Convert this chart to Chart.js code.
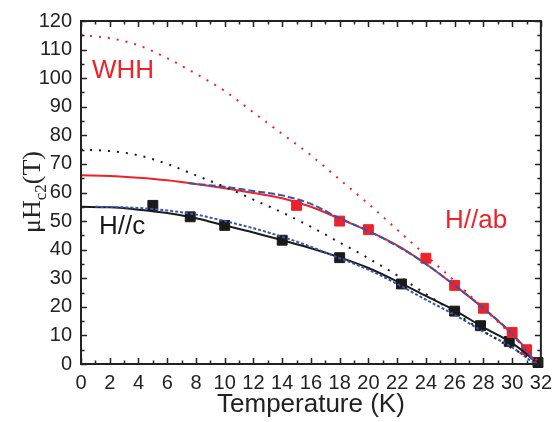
<!DOCTYPE html>
<html>
<head>
<meta charset="utf-8">
<script src="https://cdn.jsdelivr.net/npm/chart.js@4"></script>
<style>
  html, body { margin: 0; padding: 0; background: #fff; }
  #wrap { width: 559px; height: 422px; }
</style>
</head>
<body>
<div id="wrap"><canvas id="hc2Chart" width="559" height="422"></canvas></div>
<script>
// WHH curves (dotted)
const whhAbT = [0, 2, 4, 6, 8, 10, 12, 14, 16, 18, 20, 22, 24, 26, 28, 30, 31, 32];
const whhAbH = [115, 114, 111.5, 107, 101.5, 95.5, 88, 80.5, 73, 64.5, 56, 47, 38, 29, 19.5, 10, 5, 0];
const whhCT = [0, 2, 4, 6, 8, 10, 12, 14, 16, 18, 20, 22, 24, 26, 28, 30, 32];
const whhCH = [75, 74.5, 73, 70, 66, 62, 57.5, 53, 48, 42.5, 37, 31, 24.5, 18, 11.5, 5.5, 0];

// fits (solid)
const fitAbT = [0, 2, 4, 6, 8, 10, 12, 14, 16, 18, 20, 22, 24, 26, 28, 30, 31, 31.7];
const fitAbH = [66, 65.8, 65.2, 64.3, 63, 61.5, 59.8, 58, 55, 50.8, 46.5, 41.5, 35, 27.5, 19.5, 10.5, 5, 0];
const fitCT = [0, 2, 4, 6, 8, 10, 12, 14, 16, 18, 20, 22, 24, 26, 28, 30, 31, 31.8];
const fitCH = [55, 54.8, 54, 52.8, 51, 48.5, 46, 43.3, 40.5, 37.3, 33.6, 28.9, 23.8, 18.8, 12.8, 7.3, 3.5, 0];

// blue model curves
const blueAbT = [7.5, 10, 12, 14, 16, 18, 20, 22, 24, 26, 28, 30, 31.7];
const blueAbH = [63.2, 62, 60.5, 59, 56, 51, 46.5, 41.3, 35, 27.5, 19.5, 10.5, 0];
const blueCT = [1, 4, 6, 8, 10, 12, 14, 16, 18, 20, 22, 24, 26, 28, 30, 31.6];
const blueCH = [55, 54.6, 53.7, 52.3, 50, 47.5, 44.5, 41, 37, 33, 28, 22.5, 17.2, 11.3, 5.8, 0];

// measured points
const abT = [15, 18, 20, 24, 26, 28, 30, 31];
const abH = [55.5, 50, 47, 37, 27.5, 19.5, 11, 5];
const cT = [5, 7.6, 10, 14, 18, 22.3, 26, 27.8, 29.8, 31.8];
const cH = [55.5, 51.5, 48.5, 43.3, 37.2, 28, 18.5, 13.4, 7.9, 0.5];

const xTicks = [0, 2, 4, 6, 8, 10, 12, 14, 16, 18, 20, 22, 24, 26, 28, 30, 32];
const yTicks = [0, 10, 20, 30, 40, 50, 60, 70, 80, 90, 100, 110, 120];

const RED = '#ee2229';
const BLACK = '#1a1a1a';
const BLUE = '#3556b0';

function pts(xs, ys) {
    return xs.map(function(x, i) { return {x: x, y: ys[i]}; });
}

function curve(xs, ys, color, dash, width) {
    return {
        data: pts(xs, ys),
        showLine: true,
        borderColor: color,
        borderWidth: width || 2,
        borderDash: dash,
        pointRadius: 0,
        cubicInterpolationMode: 'monotone',
        fill: false
    };
}

function squares(xs, ys, color) {
    return {
        data: pts(xs, ys),
        showLine: false,
        pointStyle: 'rect',
        pointRadius: 7,
        backgroundColor: color,
        borderColor: color,
        borderWidth: 1,
        clip: 10
    };
}

// box with inward ticks plus the text labels
const framePlugin = {
    id: 'frame',
    afterDatasetsDraw: function(chart) {
        const ctx = chart.ctx;
        const a = chart.chartArea;
        const xs = chart.scales.x;
        const ys = chart.scales.y;
        ctx.save();
        ctx.strokeStyle = '#222';
        ctx.lineWidth = 1.5;
        for (let t = 0; t <= 32; t++) {
            const px = Math.round(xs.getPixelForValue(t)) + 0.5;
            const len = t % 2 === 0 ? 6 : 3.5;
            ctx.beginPath();
            ctx.moveTo(px, a.bottom); ctx.lineTo(px, a.bottom - len);
            ctx.moveTo(px, a.top); ctx.lineTo(px, a.top + len);
            ctx.stroke();
        }
        for (let v = 0; v <= 120; v += 5) {
            const py = Math.round(ys.getPixelForValue(v)) + 0.5;
            const len = v % 10 === 0 ? 6 : 3.5;
            ctx.beginPath();
            ctx.moveTo(a.left, py); ctx.lineTo(a.left + len, py);
            ctx.moveTo(a.right, py); ctx.lineTo(a.right - len, py);
            ctx.stroke();
        }
        ctx.lineWidth = 2;
        ctx.strokeRect(a.left, a.top, a.right - a.left, a.bottom - a.top);

        // labels inside the plot
        ctx.font = '26px "Liberation Sans", Arial, sans-serif';
        ctx.textBaseline = 'middle';
        ctx.textAlign = 'left';
        ctx.fillStyle = RED;
        ctx.fillText('WHH', 92, 71);
        ctx.fillText('H//ab', 445, 221);
        ctx.fillStyle = BLACK;
        ctx.fillText('H//c', 99, 227);

        // y axis title with subscript
        ctx.translate(31, 192);
        ctx.rotate(-Math.PI / 2);
        const big = '26px "Liberation Serif", "Times New Roman", serif';
        const small = '17px "Liberation Serif", "Times New Roman", serif';
        ctx.font = big;
        const w1 = ctx.measureText('\u03bcH').width;
        const w3 = ctx.measureText('(T)').width;
        ctx.font = small;
        const w2 = ctx.measureText('c2').width;
        let x0 = -(w1 + w2 + w3) / 2;
        ctx.fillStyle = '#222';
        ctx.textBaseline = 'alphabetic';
        ctx.font = big;
        ctx.fillText('\u03bcH', x0, 9);
        ctx.font = small;
        ctx.fillText('c2', x0 + w1, 15);
        ctx.font = big;
        ctx.fillText('(T)', x0 + w1 + w2, 9);
        ctx.restore();
    }
};

const ctx = document.getElementById('hc2Chart').getContext('2d');
new Chart(ctx, {
    type: 'scatter',
    data: {
        datasets: [
            curve(whhAbT, whhAbH, RED, [2, 7], 2),
            curve(whhCT, whhCH, BLACK, [2, 7], 2),
            curve(blueAbT, blueAbH, BLUE, [7, 3], 2),
            curve(blueCT, blueCH, BLUE, [3, 2], 2),
            curve(fitAbT, fitAbH, RED, [], 2),
            curve(fitCT, fitCH, BLACK, [], 2),
            squares(abT, abH, RED),
            squares(cT, cH, BLACK)
        ]
    },
    options: {
        responsive: false,
        animation: false,
        layout: {padding: {top: 20, right: 14, left: 0, bottom: 0}},
        plugins: {
            legend: {display: false},
            tooltip: {enabled: false}
        },
        scales: {
            x: {
                type: 'linear',
                min: 0,
                max: 32,
                afterBuildTicks: function(scale) {
                    scale.ticks = xTicks.map(function(v) { return {value: v}; });
                },
                afterFit: function(scale) { scale.height = 58; },
                grid: {display: false, drawTicks: false},
                border: {display: false},
                ticks: {
                    color: '#222',
                    padding: 7,
                    maxRotation: 0,
                    autoSkip: false,
                    font: {family: '"Liberation Sans", Arial, sans-serif', size: 20}
                },
                title: {
                    display: true,
                    text: 'Temperature (K)',
                    color: '#222',
                    padding: {top: 0, bottom: 2},
                    font: {family: '"Liberation Sans", Arial, sans-serif', size: 26}
                }
            },
            y: {
                type: 'linear',
                min: 0,
                max: 120,
                afterBuildTicks: function(scale) {
                    scale.ticks = yTicks.map(function(v) { return {value: v}; });
                },
                afterFit: function(scale) { scale.width = 81; },
                grid: {display: false, drawTicks: false},
                border: {display: false},
                ticks: {
                    color: '#222',
                    padding: 9,
                    autoSkip: false,
                    font: {family: '"Liberation Sans", Arial, sans-serif', size: 20}
                }
            }
        }
    },
    plugins: [framePlugin]
});
</script>
</body>
</html>
